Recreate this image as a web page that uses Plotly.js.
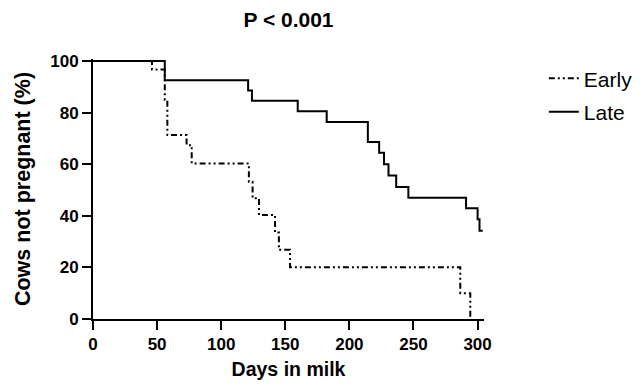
<!DOCTYPE html>
<html>
<head>
<meta charset="utf-8">
<script src="https://cdn.plot.ly/plotly-3.0.1.min.js"></script>
<style>
html,body{margin:0;padding:0;background:#fff;}
#chart{width:644px;height:387px;}
</style>
</head>
<body>
<div id="chart"></div>
<script>
// Kaplan-Meier step data
const earlyDays = [0, 46, 56, 58, 73, 77, 121.6, 124.5, 129.5, 142, 145, 153.7, 286.5, 294.3];
const earlySurv = [100, 96.7, 85, 71.3, 67.4, 60.3, 53.2, 46.8, 40.3, 33.5, 26.8, 20.1, 10.0, 0];
const lateDays = [0, 56, 121, 124, 159.7, 182.3, 214.4, 223.2, 227, 230.5, 236.5, 246, 291, 300, 301.5, 304];
const lateSurv = [100, 92.6, 88.6, 84.6, 80.5, 76.4, 68.6, 64.5, 60.0, 55.6, 51.2, 47.0, 42.9, 38.7, 34.2, 34.2];
const seriesNames = ["Early", "Late"];
const xTicks = [0, 50, 100, 150, 200, 250, 300];
const yTicks = [0, 20, 40, 60, 80, 100];

const font = "Liberation Sans, Arial, sans-serif";

const traces = [
  {x: earlyDays, y: earlySurv, name: seriesNames[0], type: "scatter", mode: "lines",
   line: {shape: "hv", color: "#000", width: 2, dash: "6px,3px,2px,3px,2px,3px"},
   legendgroup: "a"},
  {x: lateDays, y: lateSurv, name: seriesNames[1], type: "scatter", mode: "lines",
   line: {shape: "hv", color: "#000", width: 2}, legendgroup: "b"}
];

const layout = {
  width: 644, height: 387,
  margin: {l: 93, r: 160, t: 59, b: 68, pad: 0, autoexpand: false},
  paper_bgcolor: "#fff", plot_bgcolor: "#fff",
  font: {family: font, color: "#000"},
  title: {text: "<b>P < 0.001</b>", font: {size: 21, family: font, color: "#000"},
          x: 0.5, xref: "paper", y: 0.948, yanchor: "middle"},
  xaxis: {range: [0, 305], tickvals: xTicks, ticktext: xTicks.map(v => "<b>" + v + "</b>"),
          ticks: "outside", ticklen: 9, tickwidth: 2,
          tickcolor: "#000", showline: true, linecolor: "#000", linewidth: 2,
          showgrid: false, zeroline: false,
          tickfont: {size: 17, family: font, color: "#000"},
          title: {text: "<b>Days in milk</b>", font: {size: 19.5, family: font, color: "#000"}, standoff: 9}},
  yaxis: {range: [0, 100.8], tickvals: yTicks, ticktext: yTicks.map(v => "<b>" + v + "</b>"),
          ticks: "outside", ticklen: 9, tickwidth: 2,
          tickcolor: "#000", showline: true, linecolor: "#000", linewidth: 2,
          showgrid: false, zeroline: false,
          tickfont: {size: 17, family: font, color: "#000"},
          title: {text: "<b>Cows not pregnant (%)</b>", font: {size: 21.5, family: font, color: "#000"}, standoff: 14}},
  showlegend: true,
  legend: {x: 1.153, y: 1.003, xanchor: "left", yanchor: "top", traceorder: "grouped",
           tracegroupgap: 3, font: {size: 21, family: font, color: "#000"},
           bgcolor: "rgba(0,0,0,0)"}
};

Plotly.newPlot("chart", traces, layout, {staticPlot: true});
</script>
</body>
</html>
